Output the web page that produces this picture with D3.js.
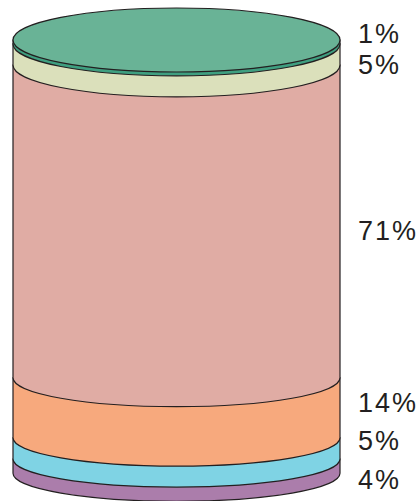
<!DOCTYPE html>
<html>
<head>
<meta charset="utf-8">
<script src="https://cdnjs.cloudflare.com/ajax/libs/d3/7.8.5/d3.min.js"></script>
<style>
  html, body { margin: 0; padding: 0; background: #fff; overflow: hidden; }
  svg { display: block; }
  text { font-family: "Liberation Sans", sans-serif; }
</style>
</head>
<body>
<script>
const width = 418;
const height = 501;

// top to bottom
const labels = ["1%", "5%", "71%", "14%", "5%", "4%"];
// height of each band as drawn (percent of the cylinder)
const bandHeights = [0.9, 4.9, 72.4, 13.9, 4.9, 3.3];
const colors = ["#3f9f80", "#dbe0bb", "#e0aca4", "#f7a97d", "#7fd3e4", "#ab7dab"];

const topColor = "#69b396";
const lineColor = "#231f20";

// label centres don't follow the bands exactly, they were placed by hand
const labelCentres = [34, 65, 231, 403, 441, 480];

const y = d3.scaleLinear().domain([0, 100]).range([40, 472]);
const x = d3.scaleLinear().domain([-1, 1]).range([13, 340]);
const ry = d3.scaleLinear().domain([0, 100]).range([32, 28]);
const rx = (x(1) - x(-1)) / 2;

let running = 0;
const bands = bandHeights.map((h, i) => {
  const band = { i, from: running, to: running + h };
  running += h;
  return band;
});

const bandPath = (b) =>
  `M${x(-1)},${y(b.from)}L${x(-1)},${y(b.to)}` +
  `A${rx},${ry(b.to)} 0 0 0 ${x(1)},${y(b.to)}` +
  `L${x(1)},${y(b.from)}Z`;

const svg = d3
  .select("body")
  .append("svg")
  .attr("width", width)
  .attr("height", height);

// lowest band first so every upper band's curved edge sits on top
svg
  .selectAll("path.band")
  .data(bands.slice().reverse())
  .enter()
  .append("path")
  .classed("band", true)
  .attr("d", bandPath)
  .style("fill", (d) => colors[d.i])
  .style("stroke", lineColor)
  .style("stroke-width", 1.2);

svg
  .append("ellipse")
  .attr("cx", x(0))
  .attr("cy", y(0))
  .attr("rx", rx)
  .attr("ry", ry(0))
  .style("fill", topColor)
  .style("stroke", lineColor)
  .style("stroke-width", 1.2);

svg
  .selectAll("text.label")
  .data(labels)
  .enter()
  .append("text")
  .classed("label", true)
  .attr("x", 358)
  .attr("y", (d, i) => labelCentres[i])
  .attr("dy", "0.35em")
  .style("font-size", "27px")
  .style("letter-spacing", "2px")
  .style("fill", lineColor)
  .text((d) => d);
</script>
</body>
</html>
